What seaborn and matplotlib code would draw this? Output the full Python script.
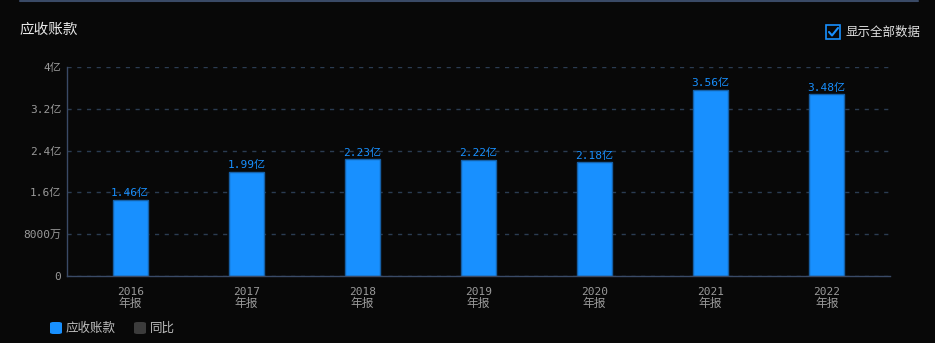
import matplotlib
matplotlib.use("Agg")
import matplotlib.pyplot as plt
import matplotlib.patches as mpatches
import seaborn as sns
import pandas as pd

years = ["2016", "2017", "2018", "2019", "2020", "2021", "2022"]
period_label = "年报"
values = [1.46, 1.99, 2.23, 2.22, 2.18, 3.56, 3.48]  # 亿
value_labels = ["1.46亿", "1.99亿", "2.23亿", "2.22亿", "2.18亿", "3.56亿", "3.48亿"]
yticks = [0, 0.8, 1.6, 2.4, 3.2, 4.0]
ytick_labels = ["0", "8000万", "1.6亿", "2.4亿", "3.2亿", "4亿"]
title = "应收账款"
series_name = "应收账款"
other_series = "同比"
checkbox_text = "显示全部数据"

sns.set_theme(style="dark")
plt.rcParams['font.family'] = ['Noto Sans CJK SC', 'DejaVu Sans']
MONO = ['DejaVu Sans Mono', 'Noto Sans CJK SC']

BG = "#080808"
BAR = "#1890ff"
GRID = "#2b3c52"
TICK = "#9a9a9a"

df = pd.DataFrame({"year": years, "value": values})

fig = plt.figure(figsize=(9.35, 3.43), dpi=100, facecolor=BG)
ax = fig.add_axes([67/935, 1-276/343, (890-67)/935, (276-67)/343])
ax.set_facecolor(BG)

sns.barplot(data=df, x="year", y="value", color=BAR, width=0.3, ax=ax,
            edgecolor="#1560a8", linewidth=1, saturation=1)

ax.set_ylim(0, 4)
ax.set_xlim(-0.545, len(years) - 0.455)
ax.set_yticks(yticks)
ax.set_yticklabels(ytick_labels)
ax.yaxis.grid(True, color=GRID, linestyle=(0, (3, 4)), linewidth=1)
ax.xaxis.grid(False)
ax.set_axisbelow(True)
ax.set_xlabel("")
ax.set_ylabel("")
for s in ["top", "right"]:
    ax.spines[s].set_visible(False)
for s in ["left", "bottom"]:
    ax.spines[s].set_visible(True)
    ax.spines[s].set_color("#3a4a66")
    ax.spines[s].set_linewidth(1)
ax.tick_params(axis="both", colors=TICK, labelsize=8, length=0, pad=4)
ax.tick_params(axis="x", pad=8)
for lbl in ax.get_xticklabels() + ax.get_yticklabels():
    lbl.set_family(MONO)

# second line of the category label
for i in range(len(years)):
    ax.annotate(period_label, xy=(i, 0), xycoords=("data", "axes fraction"),
                xytext=(0, -21), textcoords="offset pixels", ha="center", va="top",
                color=TICK, fontsize=8.5)

for i, (v, t) in enumerate(zip(values, value_labels)):
    ax.text(i, v + 0.03, t, ha="center", va="bottom", color=BAR, fontsize=8, family=MONO)

# top line
fig.add_artist(plt.Line2D([20/935, 918/935], [1-1/343, 1-1/343], color="#3a4a66", linewidth=1.5))

fig.text(20/935, 1-30/343, title, color="#e8e8e8", fontsize=10.5, va="center", ha="left")

# checkbox
fig.add_artist(mpatches.Rectangle((826/935, 1-39/343), 14/935, 14/343, transform=fig.transFigure,
                                  fill=False, edgecolor=BAR, linewidth=1.2))
fig.add_artist(plt.Line2D([829/935, 832/935, 838/935], [1-32/343, 1-35.5/343, 1-28/343],
                          color=BAR, linewidth=1.5))
fig.text(845/935, 1-32/343, checkbox_text, color="#e0e0e0", fontsize=9, va="center", ha="left")

# legend
fig.add_artist(mpatches.FancyBboxPatch((50/935, 1-334/343), 12/935, 12/343, transform=fig.transFigure,
                                       boxstyle="round,pad=0,rounding_size=0.004", facecolor=BAR, edgecolor="none"))
fig.text(66/935, 1-328/343, series_name, color="#bdbdbd", fontsize=9, va="center", ha="left")
fig.add_artist(mpatches.FancyBboxPatch((134/935, 1-334/343), 12/935, 12/343, transform=fig.transFigure,
                                       boxstyle="round,pad=0,rounding_size=0.004", facecolor="#3c3c3c", edgecolor="none"))
fig.text(150/935, 1-328/343, other_series, color="#bdbdbd", fontsize=9, va="center", ha="left")

fig.savefig("out.png", dpi=100, facecolor=BG)
